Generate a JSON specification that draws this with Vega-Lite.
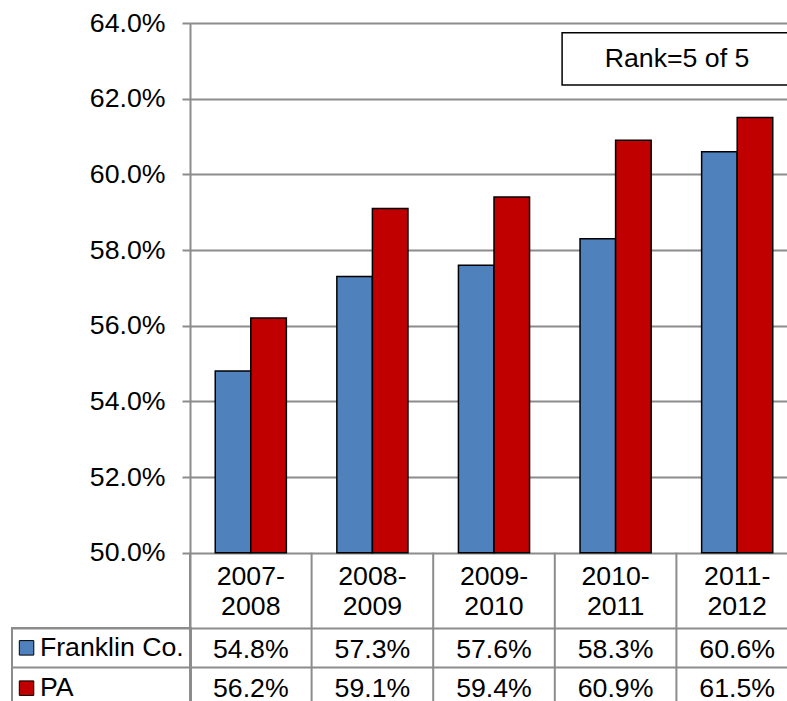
{
  "$schema": "https://vega.github.io/schema/vega-lite/v6.json",
  "width": 597,
  "height": 678,
  "autosize": {"type": "none"},
  "padding": {"left": 190, "top": 23, "right": 0, "bottom": 0},
  "background": "white",
  "config": {
    "font": "Liberation Sans",
    "view": {"stroke": null},
    "text": {"font": "Liberation Sans"}
  },
  "data": {
    "values": [
      {"year": "2007-2008", "label": "2007-\n2008", "series": "Franklin Co.", "value": 0.548},
      {"year": "2008-2009", "label": "2008-\n2009", "series": "Franklin Co.", "value": 0.573},
      {"year": "2009-2010", "label": "2009-\n2010", "series": "Franklin Co.", "value": 0.576},
      {"year": "2010-2011", "label": "2010-\n2011", "series": "Franklin Co.", "value": 0.583},
      {"year": "2011-2012", "label": "2011-\n2012", "series": "Franklin Co.", "value": 0.606},
      {"year": "2007-2008", "label": "2007-\n2008", "series": "PA", "value": 0.562},
      {"year": "2008-2009", "label": "2008-\n2009", "series": "PA", "value": 0.591},
      {"year": "2009-2010", "label": "2009-\n2010", "series": "PA", "value": 0.594},
      {"year": "2010-2011", "label": "2010-\n2011", "series": "PA", "value": 0.609},
      {"year": "2011-2012", "label": "2011-\n2012", "series": "PA", "value": 0.615}
    ]
  },
  "layer": [
    {
      "layer": [
        {
          "mark": {"type": "bar", "stroke": "black", "strokeWidth": 1.5},
          "encoding": {
            "x": {"field": "year", "type": "nominal", "sort": null, "scale": {"range": [0, 608], "paddingInner": 0, "paddingOuter": 0}, "axis": null},
            "xOffset": {"field": "series", "type": "nominal", "sort": ["Franklin Co.", "PA"], "scale": {"paddingInner": 0, "paddingOuter": 0.71}},
            "y": {
              "field": "value", "type": "quantitative",
              "scale": {"domain": [0.4608, 0.64], "nice": false, "zero": false},
              "axis": {
                "orient": "left", "title": null, "values": [0.5, 0.52, 0.54, 0.56, 0.58, 0.6, 0.62, 0.64], "format": ".1%",
                "grid": true, "gridColor": "#8c8c8c", "gridWidth": 2,
                "domainColor": "#8c8c8c", "domainWidth": 2,
                "tickColor": "#8c8c8c", "tickWidth": 2, "tickSize": 8,
                "labelFontSize": 26.7, "labelColor": "black", "labelPadding": 17, "labelFont": "Liberation Sans"
              }
            },
            "y2": {"datum": 0.5},
            "color": {
              "field": "series", "type": "nominal", "sort": ["Franklin Co.", "PA"],
              "scale": {"range": ["#4F81BD", "#C00000"]},
              "legend": {
                "orient": "none", "legendX": -178, "legendY": 605, "title": null,
                "strokeColor": "#8c8c8c", "padding": 6.5,
                "symbolType": "square", "symbolSize": 210, "symbolStrokeColor": "black", "symbolStrokeWidth": 1,
                "symbolOffset": -5.3,
                "labelFontSize": 26.7, "labelColor": "black", "labelOffset": 0, "rowPadding": 12.3, "labelFont": "Liberation Sans",
                "encode": {"legend": {"update": {"strokeWidth": {"value": 2}}}}
              }
            }
          }
        },
        {
          "transform": [{"filter": "datum.series === 'PA'"}],
          "mark": {"type": "rule", "color": "#8c8c8c", "strokeWidth": 2},
          "encoding": {
            "x": {"field": "year", "type": "nominal", "sort": null, "bandPosition": 0},
            "y": {"datum": 0.5},
            "y2": {"datum": 0.4608}
          }
        },
        {
          "transform": [{"filter": "datum.series === 'PA'"}],
          "mark": {"type": "text", "fontSize": 26.7, "color": "black", "lineBreak": "\n", "lineHeight": 29.5, "baseline": "middle"},
          "encoding": {
            "x": {"field": "year", "type": "nominal", "sort": null},
            "y": {"datum": 0.49357},
            "text": {"field": "label"}
          }
        },
        {
          "data": {"values": [{"start": "2010-2011", "end": "2011-2012", "top": 0.6374, "bottom": 0.6236, "mid": 0.6305, "note": "Rank=5 of 5"}]},
          "mark": {"type": "rect", "fill": "white", "stroke": "black", "strokeWidth": 1.5},
          "encoding": {
            "x": {"field": "start", "type": "nominal", "bandPosition": 0.06},
            "x2": {"field": "end", "bandPosition": 0.95},
            "y": {"field": "top", "type": "quantitative"},
            "y2": {"field": "bottom"}
          }
        },
        {
          "data": {"values": [{"start": "2010-2011", "end": "2011-2012", "top": 0.6374, "bottom": 0.6236, "mid": 0.6305, "note": "Rank=5 of 5"}]},
          "mark": {"type": "text", "fontSize": 26.7, "color": "black", "baseline": "middle"},
          "encoding": {
            "x": {"field": "end", "type": "nominal", "bandPosition": 0.005},
            "y": {"field": "mid", "type": "quantitative"},
            "text": {"field": "note"}
          }
        }
      ]
    },
    {
      "mark": {"type": "text", "fontSize": 26.7, "color": "black", "dy": 2, "baseline": "middle"},
      "encoding": {
        "x": {"field": "year", "type": "nominal", "sort": null},
        "y": {
          "field": "series", "type": "nominal", "sort": ["Franklin Co.", "PA"],
          "scale": {"range": [605, 683], "paddingInner": 0, "paddingOuter": 0},
          "axis": {
            "orient": "left", "title": null, "labels": false, "domain": false, "tickBand": "extent",
            "tickSize": 178, "tickColor": "#8c8c8c", "tickWidth": 2,
            "grid": true, "gridColor": "#8c8c8c", "gridWidth": 2
          }
        },
        "text": {"field": "value", "type": "quantitative", "format": ".1%"}
      }
    }
  ],
  "resolve": {"scale": {"y": "independent"}, "axis": {"y": "independent"}}
}
